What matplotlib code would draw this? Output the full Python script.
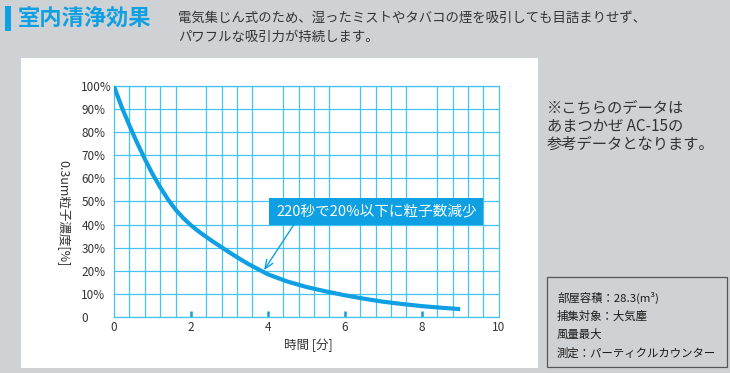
import matplotlib
matplotlib.use("Agg")
import matplotlib.pyplot as plt
from matplotlib.patches import Rectangle
import numpy as np

plt.rcParams['font.family'] = ['Noto Sans CJK JP', 'DejaVu Sans']

# data
time_min = [0, 0.2, 0.4, 0.6, 0.8, 1.0, 1.2, 1.4, 1.6, 1.8, 2.0, 2.2, 2.4, 2.6,
            2.8, 3.0, 3.2, 3.5, 4.0, 4.5, 5.0, 5.5, 6.0, 6.5, 7.0, 7.5, 8.0, 8.5, 9.0]
conc_pct = [100, 91, 83, 75.5, 68.5, 62, 56.2, 51, 46.5, 42.8, 39.7, 37.0, 34.6, 32.3,
            30.1, 27.9, 25.8, 22.8, 18.4, 15.3, 12.9, 11.0, 9.3, 7.8, 6.5, 5.5, 4.6, 3.9, 3.3]
x_ticks = [0, 2, 4, 6, 8, 10]
y_ticks = [0, 10, 20, 30, 40, 50, 60, 70, 80, 90, 100]
y_labels = ['0'] + ['%d%%' % v for v in y_ticks[1:]]

title = '室内清浄効果'
desc = ['電気集じん式のため、湿ったミストやタバコの煙を吸引しても目詰まりせず、',
        'パワフルな吸引力が持続します。']
note = ['※こちらのデータは', 'あまつかぜ AC-15の', '参考データとなります。']
cond = ['部屋容積：28.3(m³)', '捕集対象：大気塵', '風量最大', '測定：パーティクルカウンター']
callout = '220秒で20%以下に粒子数減少'

W, H = 730, 373
BLUE = '#0ea0e2'
GRID = '#45c3f1'
TXT = '#333333'


def fx(x):
    return x / W


def fy(y):
    return 1 - y / H


fig = plt.figure(figsize=(7.3, 3.73), dpi=100)
fig.patch.set_facecolor('#cfd2d5')

# white panel
fig.patches.append(Rectangle((fx(21), fy(368)), fx(538) - fx(21), fy(58) - fy(368),
                             transform=fig.transFigure, facecolor='white',
                             edgecolor='none', zorder=-5))

# header
fig.patches.append(Rectangle((fx(5), fy(31)), fx(6), fy(6) - fy(31),
                             transform=fig.transFigure, facecolor=BLUE,
                             edgecolor='none'))
fig.text(fx(18), fy(19), title, fontsize=16, fontweight='bold', color=BLUE,
         va='center', ha='left')
for i, line in enumerate(desc):
    fig.text(fx(178), fy(18 + 19 * i), line, fontsize=9.6, color=TXT,
             va='center', ha='left')

# right-hand notes
for i, line in enumerate(note):
    fig.text(fx(547), fy(108 + 18.3 * i), line, fontsize=11, color=TXT,
             va='center', ha='left')
fig.patches.append(Rectangle((fx(547), fy(367)), fx(727) - fx(547), fy(277) - fy(367),
                             transform=fig.transFigure, facecolor='none',
                             edgecolor='#555555', linewidth=0.9))
for i, line in enumerate(cond):
    fig.text(fx(557), fy(298 + 18.3 * i), line, fontsize=8.2, color='#1a1a1a',
             va='center', ha='left')

# chart
ax = fig.add_axes([fx(114), fy(316.7), fx(498.7) - fx(114), fy(86.3) - fy(316.7)])
ax.set_zorder(2)
ax.set_xlim(0, 10)
ax.set_ylim(0, 100)
ax.set_xticks(x_ticks)
ax.set_xticks(np.arange(0, 10.01, 0.4), minor=True)
ax.set_yticks(y_ticks)
ax.set_yticklabels(y_labels)
ax.grid(False)
ax.grid(True, axis='x', which='minor', color=GRID, linewidth=0.9)
ax.grid(True, axis='y', which='major', color=GRID, linewidth=0.9)
ax.set_axisbelow(True)
for s in ax.spines.values():
    s.set_color(GRID)
    s.set_linewidth(0.9)
ax.tick_params(axis='x', which='major', direction='in', length=4, width=1.8,
               color='#1a9ad6', labelsize=8.5, labelcolor=TXT, pad=3)
ax.tick_params(axis='x', which='minor', length=0)
ax.tick_params(axis='y', length=0, labelsize=8.5, labelcolor=TXT, pad=23.5)
for lab in ax.get_yticklabels():
    lab.set_ha('left')
major = ax.xaxis.get_major_ticks()
major[0].tick1line.set_visible(False)
major[-1].tick1line.set_visible(False)

ax.plot(time_min, conc_pct, color=BLUE, linewidth=3, solid_capstyle='butt',
        solid_joinstyle='round', zorder=3)

ax.annotate(callout, xy=(3.9, 20.2), xytext=(6.82, 45.8),
            fontsize=10.5, color='white', ha='center', va='center',
            bbox=dict(boxstyle='square,pad=0.45', facecolor=BLUE, edgecolor='none'),
            arrowprops=dict(arrowstyle='->,head_length=0.6,head_width=0.25',
                            color=BLUE, lw=1, relpos=(0.11, 0), shrinkA=0, shrinkB=0),
            zorder=4)

fig.text(fx(308), fy(345), '時間 [分]', fontsize=9, color=TXT, ha='center', va='center')
fig.text(fx(62.5), fy(213), '0.3um粒子濃度[%]', fontsize=9, color=TXT,
         ha='center', va='center', rotation=270)

fig.savefig('out.png', dpi=100, facecolor=fig.get_facecolor())
